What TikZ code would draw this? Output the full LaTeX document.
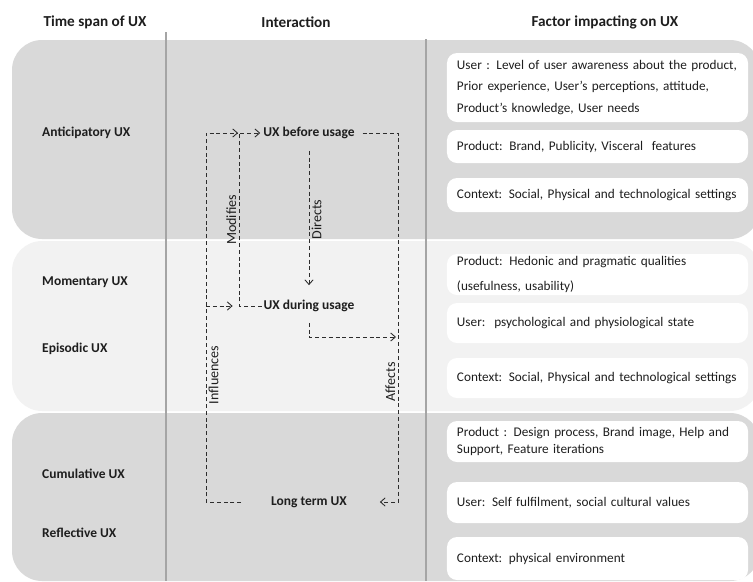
\documentclass[tikz,border=0pt]{standalone}
\usepackage{fontspec}
\setmainfont{Carlito}
\usetikzlibrary{arrows.meta,positioning}
\definecolor{band-dark}{RGB}{217,217,217}
\definecolor{band-light}{RGB}{242,242,242}
\definecolor{sep-gray}{RGB}{165,165,165}
\definecolor{ink}{RGB}{30,30,30}
\definecolor{flow-gray}{RGB}{45,45,45}

\begin{document}
\begin{tikzpicture}[
    x=0.03cm, y=-0.03cm,
    band/.style={rounded corners=0.9cm},
    sep/.style={sep-gray, line width=2.5pt},
    header/.style={font=\fontsize{13}{15}\selectfont\bfseries, text=ink},
    span/.style={font=\fontsize{11.5}{13}\selectfont\bfseries, text=ink, anchor=west, inner sep=0pt},
    stage/.style={font=\fontsize{11.5}{13}\selectfont\bfseries, text=ink, inner sep=1.5pt},
    factor/.style={rectangle, rounded corners=0.3cm, fill=white, text width=8.43cm, inner xsep=0.3cm, inner ysep=0pt, align=left, font=\fontsize{11.3}{18}\selectfont, text=ink},
    flow/.style={-{Straight Barb[length=4pt,width=7pt]}, flow-gray, line width=0.75pt, dash pattern=on 3.4pt off 2.4pt},
    rel/.style={font=\fontsize{12}{14}\selectfont, text=ink, rotate=90, inner sep=2pt}
]
\useasboundingbox (0,0) rectangle (753,581);

% Bands
\begin{scope}
\clip (0,0) rectangle (753,581);
\fill[band-dark, band] (12,40) rectangle (760,239);
\fill[band-light, band] (12,241) rectangle (760,411);
\fill[band-dark, band] (12,413) rectangle (760,581);
\end{scope}

% Column separators
\draw[sep] (166,32) -- (166,581);
\draw[sep] (426,39) -- (426,581);

% Column headers
\node[header] (hdr-span) at (95,22) {Time span of UX};
\node[header] (hdr-inter) at (296,22) {Interaction};
\node[header] (hdr-factor) at (605,22) {Factor impacting on UX};

% Time spans
\node[span] (anticip) at (42,133) {Anticipatory UX};
\node[span] (moment) at (42,282) {Momentary UX};
\node[span] (episod) at (42,349) {Episodic UX};
\node[span] (cumul) at (42,474) {Cumulative UX};
\node[span] (reflect) at (42,533) {Reflective UX};

% Interaction stages
\node[stage] (before) at (309,133) {UX before usage};
\node[stage] (during) at (309,306) {UX during usage};
\node[stage] (longterm) at (309,502) {Long term UX};

% Factors: anticipatory
\node[factor, minimum height=2.07cm] (ant-user) at (597.5,87.5) {User : Level of user awareness about the product,\\Prior experience, User’s perceptions, attitude,\\Product’s knowledge, User needs};
\node[factor, minimum height=0.99cm] (ant-prod) at (597.5,146.5) {Product: Brand, Publicity, Visceral\ \ features};
\node[factor, minimum height=1.02cm] (ant-ctx) at (597.5,195) {Context: Social, Physical and technological settings};

% Factors: momentary / episodic
\node[factor, minimum height=1.23cm, font=\fontsize{11.3}{21}\selectfont] (epi-prod) at (597.5,274.5) {Product: Hedonic and pragmatic qualities\\(usefulness, usability)};
\node[factor, minimum height=1.2cm] (epi-user) at (597.5,323) {User:\ \ psychological and physiological state};
\node[factor, minimum height=1.2cm] (epi-ctx) at (597.5,378) {Context: Social, Physical and technological settings};

% Factors: cumulative / reflective
\node[factor, minimum height=1.23cm, font=\fontsize{11.3}{14.5}\selectfont] (ref-prod) at (597.5,441.5) {Product : Design process, Brand image, Help and\\Support, Feature iterations};
\node[factor, minimum height=1.23cm] (ref-user) at (597.5,502.5) {User: Self fulfilment, social cultural values};
\node[factor, minimum height=1.29cm] (ref-ctx) at (597.5,558.5) {Context: physical environment};

% Bends
\coordinate (infl) at (206,375);
\coordinate (infl-b) at (206,306);
\coordinate (mod) at (239,220);
\coordinate (aff) at (398,382);
\coordinate (aff-b) at (396,337);

% Arrows
\draw[flow, shorten <=0.84cm, shorten >=0.7cm] (longterm.west) -| (infl) node[rel, anchor=north] {Influences} |- (before.west);
\draw[flow, shorten >=0.87cm] (infl-b) -- (during.west);
\draw[flow, shorten >=1pt] (during.west) -| (mod) node[rel, anchor=south] {Modifies} |- (before.west);
\draw[flow, shorten <=0.3cm, shorten >=0.39cm] (before) -- node[rel, anchor=north] {Directs} (during);
\draw[flow, shorten <=0.18cm, shorten >=0.93cm] (before.east) -| (aff) node[rel, anchor=south] {Affects} |- (longterm.east);
\draw[flow, shorten <=0.27cm] (during.south) |- (aff-b);

\end{tikzpicture}
\end{document}
